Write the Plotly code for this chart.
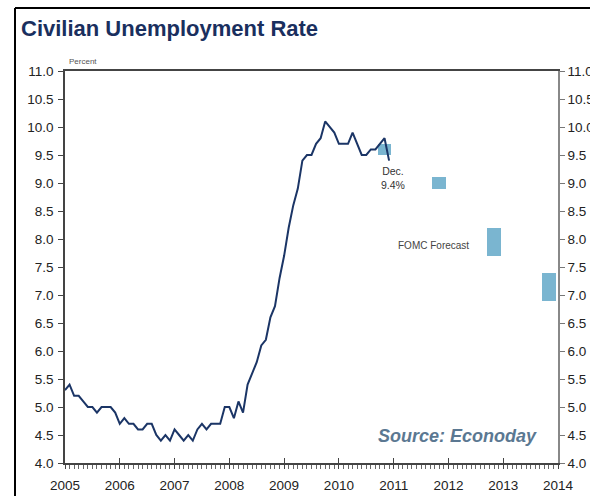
import plotly.graph_objects as go

# Monthly civilian unemployment rate, Jan 2005 - Dec 2010 (percent)
rate_2005 = [5.3, 5.4, 5.2, 5.2, 5.1, 5.0, 5.0, 4.9, 5.0, 5.0, 5.0, 4.9]
rate_2006 = [4.7, 4.8, 4.7, 4.7, 4.6, 4.6, 4.7, 4.7, 4.5, 4.4, 4.5, 4.4]
rate_2007 = [4.6, 4.5, 4.4, 4.5, 4.4, 4.6, 4.7, 4.6, 4.7, 4.7, 4.7, 5.0]
rate_2008 = [5.0, 4.8, 5.1, 4.9, 5.4, 5.6, 5.8, 6.1, 6.2, 6.6, 6.8, 7.3]
rate_2009 = [7.7, 8.2, 8.6, 8.9, 9.4, 9.5, 9.5, 9.7, 9.8, 10.1, 10.0, 9.9]
rate_2010 = [9.7, 9.7, 9.7, 9.9, 9.7, 9.5, 9.5, 9.6, 9.6, 9.7, 9.8, 9.4]
start_year = 2005

# FOMC central-tendency projections for Q4 of each year
forecast_years = [2010, 2011, 2012, 2013]
forecast_low = [9.5, 8.9, 7.7, 6.9]
forecast_high = [9.7, 9.1, 8.2, 7.4]

year_ticks = list(range(2005, 2015))
y_ticks = [4.0 + 0.5 * i for i in range(15)]

rates = rate_2005 + rate_2006 + rate_2007 + rate_2008 + rate_2009 + rate_2010
months = [start_year + i / 12 for i in range(len(rates))]

W, H = 590, 496
ML, MR, MT, MB = 65, 32, 71, 33
pw, ph = W - ML - MR, H - MT - MB

fig = go.Figure()

fig.add_trace(go.Bar(
    x=[y + 10 / 12 for y in forecast_years],
    y=[h - l for h, l in zip(forecast_high, forecast_low)],
    base=forecast_low,
    width=0.25,
    marker=dict(color="#7ab5d0", line=dict(width=0)),
    showlegend=False,
    hoverinfo="skip",
))

fig.add_trace(go.Scatter(
    x=months, y=rates, mode="lines",
    line=dict(color="#1b3566", width=2),
    showlegend=False,
))

# invisible traces carrying the right-hand axis and the inner year ticks
fig.add_trace(go.Scatter(x=[start_year], y=[4.0], yaxis="y2", mode="markers",
                         marker=dict(opacity=0), showlegend=False, hoverinfo="skip"))
fig.add_trace(go.Scatter(x=[start_year], y=[4.0], xaxis="x2", mode="markers",
                         marker=dict(opacity=0), showlegend=False, hoverinfo="skip"))

tick_font = dict(family="Liberation Sans, Arial, sans-serif", size=13.5, color="#222")

fig.update_layout(
    width=W, height=H,
    margin=dict(l=ML, r=MR, t=MT, b=MB, autoexpand=False),
    paper_bgcolor="white", plot_bgcolor="white",
    bargap=0,
    xaxis=dict(
        range=[2005, 2014], tickvals=year_ticks, ticktext=[str(y) for y in year_ticks],
        ticks="outside", ticklen=4, tickcolor="#444", tickwidth=1,
        minor=dict(dtick=1 / 12, ticks="outside", ticklen=4, tickcolor="#666", tick0=2005),
        showline=True, linecolor="#444", linewidth=1.5, mirror=True,
        showgrid=False, zeroline=False, tickfont=tick_font, automargin=False,
        ticklabelstandoff=5,
    ),
    xaxis2=dict(
        range=[2005, 2014], tickvals=year_ticks, overlaying="x", anchor="y", side="bottom",
        ticks="inside", ticklen=5, tickcolor="#444", tickwidth=1,
        showticklabels=False, showline=False, showgrid=False, zeroline=False,
        automargin=False,
    ),
    yaxis=dict(
        range=[4.0, 11.0], tickvals=y_ticks, ticktext=[f"{v:.1f}" for v in y_ticks],
        ticks="outside", ticklen=5, tickcolor="#444",
        showline=True, linecolor="#444", linewidth=1.5,
        showgrid=False, zeroline=False, tickfont=tick_font, automargin=False,
        ticklabelstandoff=2,
    ),
    yaxis2=dict(
        range=[4.0, 11.0], tickvals=y_ticks, ticktext=[f"{v:.1f}" for v in y_ticks],
        overlaying="y", side="right",
        ticks="outside", ticklen=5, tickcolor="#777",
        showline=True, linecolor="#888", linewidth=1.5,
        showgrid=False, zeroline=False, tickfont=tick_font, automargin=False,
    ),
)

# title
fig.add_annotation(
    text="<b>Civilian Unemployment Rate</b>", xref="paper", yref="paper",
    x=(19 - ML) / pw, y=1 + (MT - 28) / ph, xanchor="left", yanchor="middle",
    showarrow=False,
    font=dict(family="Liberation Sans, Arial, sans-serif", size=22, color="#1a2f5e"),
)

fig.add_annotation(
    text="Percent", xref="paper", yref="paper",
    x=(67 - ML) / pw, y=1 + (MT - 61) / ph, xanchor="left", yanchor="middle",
    showarrow=False, font=dict(family="Liberation Sans, sans-serif", size=8, color="#555"),
)

fig.add_annotation(
    text="Dec.<br>9.4%", x=months[-1], y=rates[-1], xref="x", yref="y",
    xanchor="center", yanchor="top", xshift=4, yshift=-2, showarrow=False,
    font=dict(family="Liberation Sans, sans-serif", size=10.5, color="#333"),
)

fig.add_annotation(
    text="FOMC Forecast", x=forecast_years[2] + 10 / 12 - 0.125,
    y=(forecast_low[2] + forecast_high[2]) / 2, xref="x", yref="y",
    xanchor="right", yanchor="middle", xshift=-16, yshift=-4, showarrow=False,
    font=dict(family="Liberation Sans, sans-serif", size=10, color="#444"),
)

fig.add_annotation(
    text="<b><i>Source: Econoday</i></b>", xref="paper", yref="paper",
    x=(539 - ML) / pw, y=(H - MB - 436) / ph, xanchor="right", yanchor="middle",
    showarrow=False,
    font=dict(family="Liberation Sans, Arial, sans-serif", size=18, color="#5b7892"),
)

# black frame lines along the top and left edges
fig.add_shape(type="line", xref="paper", yref="paper",
              x0=(15 - ML) / pw, x1=(W + 5 - ML) / pw, y0=1 + (MT - 8) / ph, y1=1 + (MT - 8) / ph,
              line=dict(color="black", width=2))
fig.add_shape(type="line", xref="paper", yref="paper",
              x0=(15 - ML) / pw, x1=(15 - ML) / pw, y0=1 + (MT - 8) / ph, y1=-(MB + 5) / ph,
              line=dict(color="black", width=2))

fig.write_html("out.html")
